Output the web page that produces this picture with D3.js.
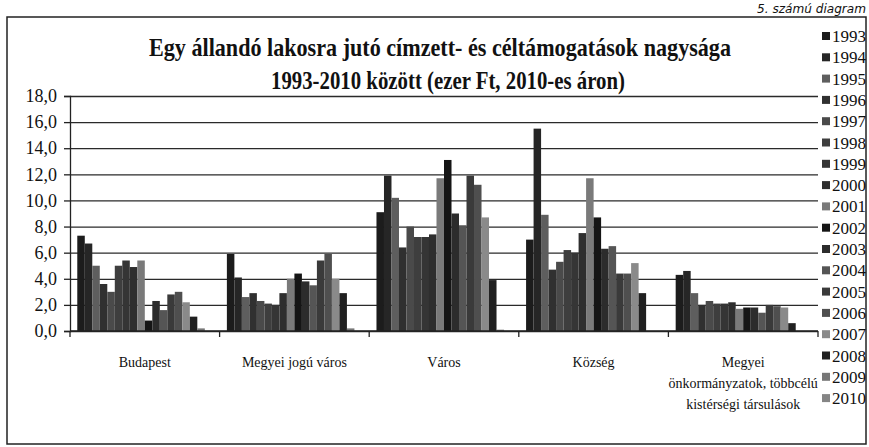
<!DOCTYPE html>
<html>
<head>
<meta charset="utf-8">
<script src="https://cdn.jsdelivr.net/npm/d3@7"></script>
<style>
  body { margin: 0; background: #fff; }
  text { font-family: 'Liberation Serif', 'Times New Roman', serif; fill: #111; }
  .title { font-weight: bold; font-size: 25px; }
  .tick-label { font-size: 18px; }
  .cat-label { font-size: 14px; }
  .legend-label { font-size: 17px; }
  .note { font-family: 'DejaVu Sans', sans-serif; font-style: italic; font-size: 12px; }
</style>
</head>
<body>
<svg width="869" height="447"></svg>
<script>
const svg = d3.select('svg');

const height = +svg.attr('height');
const width = +svg.attr('width');

// categories (x axis groups)
const categories = ['Budapest', 'Megyei jogú város', 'Város', 'Község', 'Megyei önkormányzatok'];
// the last label wraps over three lines in the original
const categoryLines = [
    ['Budapest'],
    ['Megyei jogú város'],
    ['Város'],
    ['Község'],
    ['Megyei', 'önkormányzatok, többcélú', 'kistérségi társulások']
];

const years = ['1993', '1994', '1995', '1996', '1997', '1998', '1999', '2000', '2001',
    '2002', '2003', '2004', '2005', '2006', '2007', '2008', '2009', '2010'];

// values per category, 1993..2010 (ezer Ft)
const budapest = [7.3, 6.7, 5.0, 3.6, 3.0, 5.0, 5.4, 4.9, 5.4, 0.8, 2.3, 1.6, 2.8, 3.0, 2.2, 1.1, 0.2, 0.0];
const megyeiJogu = [5.9, 4.1, 2.6, 2.9, 2.3, 2.1, 2.0, 2.9, 4.0, 4.4, 3.8, 3.5, 5.4, 5.9, 4.0, 2.9, 0.2, 0.0];
const varos = [9.1, 11.9, 10.2, 6.4, 8.0, 7.2, 7.2, 7.4, 11.7, 13.1, 9.0, 8.1, 11.9, 11.2, 8.7, 3.9, 0.1, 0.0];
const kozseg = [7.0, 15.5, 8.9, 4.7, 5.3, 6.2, 6.0, 7.5, 11.7, 8.7, 6.3, 6.5, 4.4, 4.4, 5.2, 2.9, 0.0, 0.0];
const megyeiOnk = [4.3, 4.6, 2.9, 2.0, 2.3, 2.1, 2.1, 2.2, 1.7, 1.8, 1.8, 1.4, 2.0, 1.9, 1.8, 0.6, 0.0, 0.0];

const yTicks = [0, 2, 4, 6, 8, 10, 12, 14, 16, 18];

// grey tones of the scanned print, one per year
const yearColors = ['#1c1c1c', '#262626', '#5e5e5e', '#303030', '#4a4a4a', '#3e3e3e', '#353535', '#2e2e2e', '#7a7a7a',
    '#151515', '#2c2c2c', '#555555', '#3a3a3a', '#4f4f4f', '#8a8a8a', '#202020', '#777777', '#858585'];

const render = () => {
    const seriesByCat = [budapest, megyeiJogu, varos, kozseg, megyeiOnk];
    const data = categories.map((c, i) => ({
        category: c,
        values: years.map((y, j) => ({ year: y, value: seriesByCat[i][j] }))
    }));

    const margin = {top: 96, right: 51, bottom: 116, left: 70};
    const innerWidth = width - margin.left - margin.right;
    const innerHeight = height - margin.top - margin.bottom;

    // frame of the scanned page
    svg.append('rect')
        .attr('x', 7).attr('y', 17)
        .attr('width', 859).attr('height', 427)
        .attr('fill', 'none')
        .attr('stroke', '#222')
        .attr('stroke-width', 1.5);

    svg.append('text')
        .attr('class', 'note')
        .attr('x', 757)
        .attr('y', 13)
        .attr('textLength', 109)
        .attr('lengthAdjust', 'spacingAndGlyphs')
        .text('5. számú diagram');

    svg.append('text')
        .attr('class', 'title')
        .attr('x', 440)
        .attr('y', 56)
        .attr('text-anchor', 'middle')
        .attr('textLength', 582)
        .attr('lengthAdjust', 'spacingAndGlyphs')
        .text('Egy állandó lakosra jutó címzett- és céltámogatások nagysága');

    svg.append('text')
        .attr('class', 'title')
        .attr('x', 448)
        .attr('y', 89)
        .attr('text-anchor', 'middle')
        .attr('textLength', 354)
        .attr('lengthAdjust', 'spacingAndGlyphs')
        .text('1993-2010 között (ezer Ft, 2010-es áron)');

    const xScale = d3.scaleBand()
        .domain(categories)
        .range([0, innerWidth]);

    const xInner = d3.scaleBand()
        .domain(years)
        .range([0, xScale.bandwidth()])
        .paddingOuter(0.97);

    const yScale = d3.scaleLinear()
        .domain([0, 18])
        .range([innerHeight, 0]);

    const g = svg.append('g')
        .attr('transform', `translate(${margin.left}, ${margin.top})`);

    // gridlines
    const gridG = g.append('g').call(d3.axisLeft(yScale).tickValues(yTicks).tickSize(-innerWidth).tickFormat(''));
    gridG.select('.domain').remove();
    gridG.selectAll('line').attr('stroke', '#2a2a2a').attr('stroke-width', 1.3);

    // bars
    const groups = g.selectAll('.cat').data(data)
        .enter().append('g')
            .attr('class', 'cat')
            .attr('transform', d => `translate(${xScale(d.category)}, 0)`);

    groups.selectAll('rect').data(d => d.values)
        .enter().append('rect')
            .attr('x', d => xInner(d.year))
            .attr('y', d => yScale(d.value))
            .attr('width', xInner.bandwidth())
            .attr('height', d => innerHeight - yScale(d.value))
            .attr('fill', (d, i) => yearColors[i]);

    // y axis
    const yAxis = d3.axisLeft(yScale)
        .tickValues(yTicks)
        .tickSize(6)
        .tickPadding(7)
        .tickFormat(d => d3.format('.1f')(d).replace('.', ','));
    const yAxisG = g.append('g').call(yAxis);
    yAxisG.select('.domain').attr('stroke', '#222').attr('stroke-width', 1.3);
    yAxisG.selectAll('line').attr('stroke', '#222').attr('stroke-width', 1.3);
    yAxisG.selectAll('text').attr('class', 'tick-label').attr('fill', '#111');
    yAxisG.attr('font-family', null).attr('font-size', null);

    // x axis: baseline plus ticks at group boundaries
    const xAxisG = g.append('g')
        .attr('transform', `translate(0, ${innerHeight})`);
    xAxisG.append('line')
        .attr('x1', 0).attr('x2', innerWidth)
        .attr('stroke', '#222').attr('stroke-width', 1.5);
    const bounds = categories.map(c => xScale(c)).concat([innerWidth]);
    xAxisG.selectAll('.xtick').data(bounds)
        .enter().append('line')
            .attr('class', 'xtick')
            .attr('x1', d => d).attr('x2', d => d)
            .attr('y1', 0).attr('y2', 6)
            .attr('stroke', '#222').attr('stroke-width', 1.3);

    const labels = xAxisG.selectAll('.cat-label').data(categoryLines)
        .enter().append('text')
            .attr('class', 'cat-label')
            .attr('text-anchor', 'middle')
            .attr('x', (d, i) => xScale(categories[i]) + xScale.bandwidth() / 2)
            .attr('y', 36);
    labels.selectAll('tspan').data(d => d)
        .enter().append('tspan')
            .attr('x', function () { return d3.select(this.parentNode).attr('x'); })
            .attr('dy', (d, i) => i === 0 ? 0 : 21)
            .text(d => d);

    // legend
    const legend = svg.append('g')
        .attr('transform', 'translate(822, 36)');
    const items = legend.selectAll('g').data(years)
        .enter().append('g')
            .attr('transform', (d, i) => `translate(0, ${i * 21.3})`);
    items.append('rect')
        .attr('x', 0).attr('y', -4)
        .attr('width', 8).attr('height', 8)
        .attr('fill', (d, i) => yearColors[i]);
    items.append('text')
        .attr('class', 'legend-label')
        .attr('x', 10)
        .attr('y', 6)
        .text(d => d);
};

render();
</script>
</body>
</html>
